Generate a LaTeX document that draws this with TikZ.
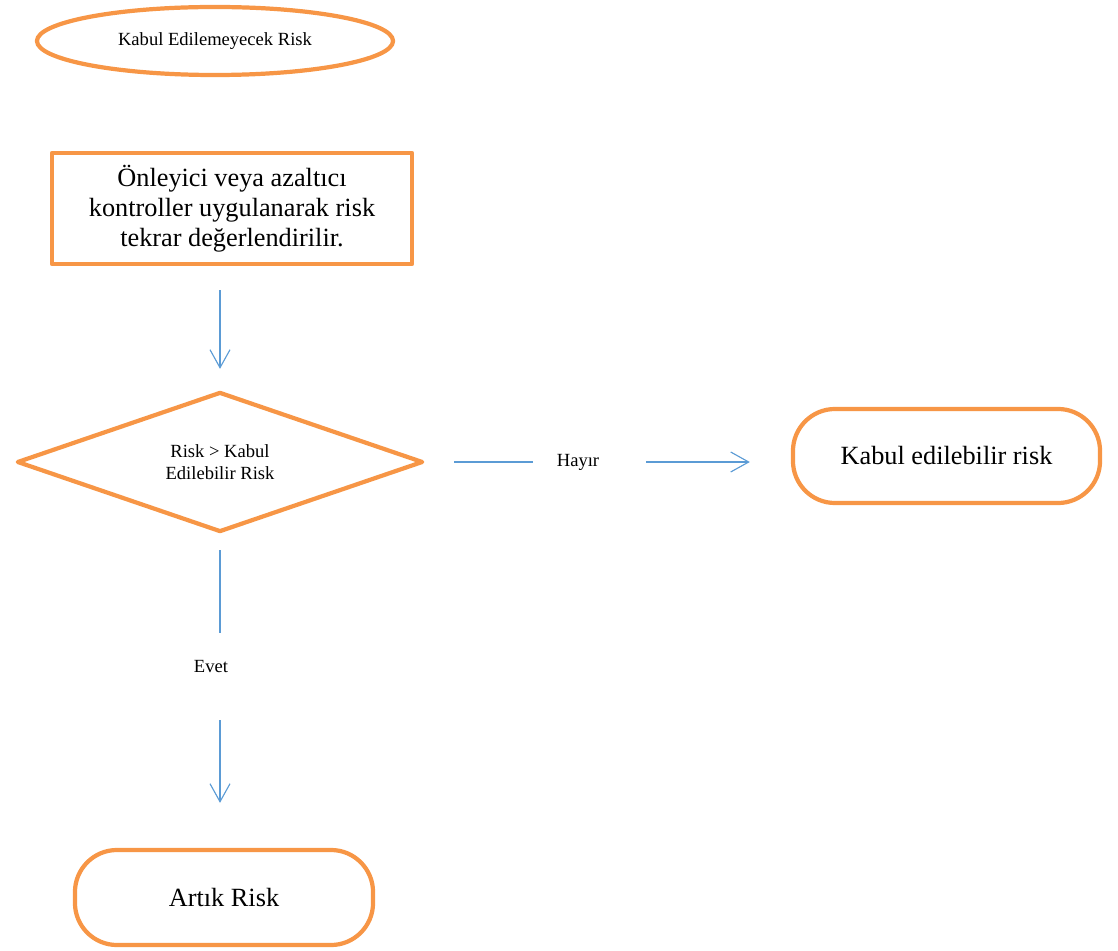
\documentclass[tikz,border=0pt]{standalone}
\usepackage{fontspec}
\setmainfont{Liberation Serif}
\usetikzlibrary{arrows.meta,shapes.geometric}
\definecolor{orange}{HTML}{F79646}
\definecolor{blue}{HTML}{5B9BD5}

\begin{document}
\begin{tikzpicture}[x=0.025cm,y=-0.025cm,
  shapebox/.style={draw=orange,line width=3pt,line join=round,fill=white,align=center,inner sep=1pt},
  bigtext/.style={font=\fontsize{18.7pt}{21.3pt}\selectfont},
  smalltext/.style={font=\fontsize{13.2pt}{15.3pt}\selectfont},
  link/.style={draw=blue,line width=0.8pt},
  flow/.style={link,-{Straight Barb[length=0.45cm,width=0.5cm]}},
  lbl/.style={smalltext,inner sep=0pt}]
\useasboundingbox (0,0) rectangle (1118,951);
\node[shapebox,ellipse,smalltext,minimum width=8.9cm,minimum height=1.7cm] (start) at (215,41) {Kabul Edilemeyecek Risk};
\node[shapebox,rectangle,bigtext,minimum width=9cm,minimum height=2.775cm] (rect) at (232,208.5) {\"Onleyici veya azalt\i c\i\\kontroller uygulanarak risk\\tekrar de\u{g}erlendirilir.};
\node[shapebox,diamond,smalltext,aspect=2.8,minimum width=10.15cm,minimum height=3.5cm] (dia) at (220,462) {Risk > Kabul\\Edilebilir Risk};
\node[shapebox,rectangle,rounded corners=1.05cm,bigtext,minimum width=7.675cm,minimum height=2.35cm] (kabul) at (946.5,456) {Kabul edilebilir risk};
\node[shapebox,rectangle,rounded corners=1.05cm,bigtext,minimum width=7.45cm,minimum height=2.375cm] (artik) at (224,897.5) {Art\i k Risk};
\node[lbl] (hayir) at (578,462) {Hay\i r};
\node[lbl] (evet) at (211,667) {Evet};
% connectors
\draw[flow,shorten <=0.6cm,shorten >=0.525cm] (dia.north |- rect.south) -- (dia.north);
\draw[link,shorten <=0.4cm,shorten >=0.7cm] (dia.south) -- (dia.south |- evet.north);
\draw[flow,shorten <=1.175cm,shorten >=1.125cm] (dia.south |- evet.south) -- (dia.south |- artik.north);
\draw[link,shorten <=0.725cm,shorten >=0.6cm] (dia.east) -- (hayir.west);
\draw[flow,shorten <=1.175cm,shorten >=1.025cm] (hayir.east) -- (hayir.east -| kabul.west);
\end{tikzpicture}
\end{document}
